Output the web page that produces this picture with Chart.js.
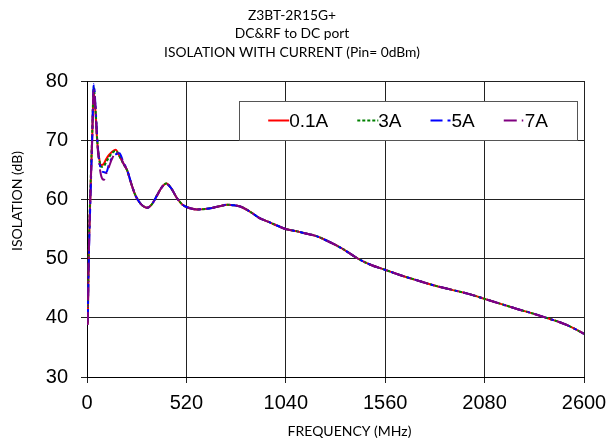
<!DOCTYPE html>
<html lang="en">
<head>
<meta charset="utf-8">
<title>Z3BT-2R15G+ isolation with current</title>
<script src="https://cdn.jsdelivr.net/npm/chart.js@4/dist/chart.umd.min.js"></script>
<style>
    html, body { margin: 0; padding: 0; background: #fff; }
    #wrap { width: 609px; height: 442px; }
</style>
</head>
<body>
<div id="wrap"><canvas id="isoChart" width="609" height="442"></canvas></div>

<script>
    /* Chart text */
    const titleLines = ['Z3BT-2R15G+', 'DC&RF to DC port', 'ISOLATION WITH CURRENT (Pin= 0dBm)'];
    const xTitle = 'FREQUENCY (MHz)';
    const yTitle = 'ISOLATION (dB)';
    const seriesLabels = ['0.1A', '3A', '5A', '7A'];

    /* Tick values */
    const xTicks = [0, 520, 1040, 1560, 2080, 2600];
    const yTicks = [30, 40, 50, 60, 70, 80];

    /* Data: frequency (MHz) and isolation (dB) per current */
    const freqMHz = [4, 9, 18, 27, 35, 45, 53, 62, 74, 88,
        100, 115, 130, 150, 170, 190, 210, 230, 253, 280,
        315, 340, 367, 390, 415, 440, 471, 500, 540, 576,
        620, 660, 700, 733, 770, 802, 854, 900, 950, 1000,
        1040, 1100, 1150, 1200, 1250, 1300, 1350, 1412, 1480, 1560,
        1640, 1720, 1812, 1900, 2000, 2080, 2160, 2250, 2335, 2422,
        2470, 2509, 2560, 2600];
    const iso01A = [39.0, 50.0, 61.0, 70.0, 78.3, 74.5, 70.0, 67.3, 65.8, 66.0,
        66.8, 67.5, 68.0, 68.4, 67.3, 66.1, 64.9, 62.8, 60.7, 59.3,
        58.6, 59.2, 60.7, 62.0, 62.7, 61.9, 60.2, 59.1, 58.5, 58.3,
        58.4, 58.6, 58.9, 59.1, 59.0, 58.8, 57.9, 56.9, 56.2, 55.5,
        55.0, 54.6, 54.2, 53.8, 53.1, 52.3, 51.4, 50.1, 49.0, 48.1,
        47.2, 46.4, 45.5, 44.8, 44.0, 43.2, 42.4, 41.5, 40.7, 39.8,
        39.3, 38.8, 38.0, 37.3];
    const iso3A = [39.2, 51.0, 62.0, 71.0, 79.0, 75.0, 70.3, 67.2, 65.5, 65.6,
        66.3, 67.1, 67.8, 68.2, 67.3, 66.0, 64.9, 62.8, 60.7, 59.3,
        58.6, 59.2, 60.8, 62.0, 62.7, 61.9, 60.2, 59.1, 58.5, 58.3,
        58.4, 58.6, 58.9, 59.1, 59.0, 58.8, 57.9, 56.9, 56.2, 55.5,
        55.0, 54.6, 54.2, 53.8, 53.1, 52.3, 51.4, 50.1, 49.0, 48.1,
        47.2, 46.4, 45.5, 44.8, 44.0, 43.2, 42.4, 41.5, 40.7, 39.8,
        39.3, 38.8, 38.0, 37.3];
    const iso5A = [39.5, 49.0, 60.0, 70.0, 79.5, 75.5, 70.5, 67.0, 65.0, 64.6,
        64.5, 65.9, 67.0, 67.6, 67.8, 66.3, 65.0, 62.9, 60.7, 59.3,
        58.6, 59.2, 60.7, 62.0, 62.6, 61.9, 60.2, 59.1, 58.5, 58.3,
        58.4, 58.6, 58.9, 59.1, 59.0, 58.8, 57.9, 56.9, 56.2, 55.5,
        55.0, 54.6, 54.2, 53.8, 53.1, 52.3, 51.4, 50.1, 49.0, 48.1,
        47.2, 46.4, 45.5, 44.8, 44.0, 43.2, 42.4, 41.5, 40.7, 39.8,
        39.3, 38.8, 38.0, 37.3];
    const iso7A = [38.8, 50.0, 61.0, 70.5, 78.8, 75.0, 70.0, 66.5, 64.0, 63.3,
        64.3, 65.5, 66.8, 67.8, 67.6, 66.1, 64.9, 62.8, 60.7, 59.3,
        58.6, 59.2, 60.7, 62.0, 62.7, 61.9, 60.2, 59.1, 58.5, 58.3,
        58.4, 58.6, 58.9, 59.1, 59.0, 58.8, 57.9, 56.9, 56.2, 55.5,
        55.0, 54.6, 54.2, 53.8, 53.1, 52.3, 51.4, 50.1, 49.0, 48.1,
        47.2, 46.4, 45.5, 44.8, 44.0, 43.2, 42.4, 41.5, 40.7, 39.8,
        39.3, 38.8, 38.0, 37.3];

    const tickFont = { family: '"Liberation Sans", Arial, sans-serif', size: 20 };
    const labelFont = 'Lato, "Open Sans", sans-serif';

    function toPoints(values) {
        return freqMHz.map((f, i) => ({ x: f, y: values[i] }));
    }

    /* Boxed legend inside the plot, upper right */
    const boxLegend = {
        id: 'boxLegend',
        afterDatasetsDraw(chart) {
            const { ctx, chartArea } = chart;
            const sample = 21, gap = 29, padX = 29, h = 39;
            ctx.save();
            ctx.font = '19px "Liberation Sans", Arial, sans-serif';
            // keep the legend in label order, not drawing order
            const sets = chart.data.datasets.slice().sort((a, b) => a.legendIndex - b.legendIndex);
            const items = sets.map(ds => ({ ds: ds, w: sample + ctx.measureText(ds.label).width }));
            let total = padX * 2 + gap * (items.length - 1);
            items.forEach(it => total += it.w);
            const right = chartArea.right - 7;
            const top = chartArea.top + 20;
            const left = right - total;
            ctx.fillStyle = '#fff';
            ctx.fillRect(left, top, total, h);
            ctx.strokeStyle = '#555';
            ctx.lineWidth = 1;
            ctx.strokeRect(Math.round(left) + 0.5, Math.round(top) + 0.5, Math.round(total), h);
            let x = left + padX;
            const cy = top + h / 2;
            items.forEach(it => {
                ctx.strokeStyle = it.ds.borderColor;
                ctx.lineWidth = 2;
                ctx.setLineDash(it.ds.borderDash || []);
                ctx.beginPath();
                ctx.moveTo(x, cy);
                ctx.lineTo(x + sample, cy);
                ctx.stroke();
                ctx.setLineDash([]);
                ctx.fillStyle = '#000';
                ctx.textBaseline = 'middle';
                ctx.fillText(it.ds.label, x + sample, cy + 1);
                x += it.w + gap;
            });
            ctx.restore();
        }
    };

    /* Axis titles (sit a little off-centre in the original) */
    const axisTitles = {
        id: 'axisTitles',
        afterDraw(chart) {
            const { ctx, chartArea: a } = chart;
            ctx.save();
            ctx.font = '14px ' + labelFont;
            ctx.fillStyle = '#000';
            ctx.textAlign = 'center';
            ctx.textBaseline = 'middle';
            ctx.fillText(xTitle, (a.left + a.right) / 2 + 14, a.bottom + 54);
            ctx.translate(17, (a.top + a.bottom) / 2 - 28);
            ctx.rotate(-Math.PI / 2);
            ctx.fillText(yTitle, 0, 0);
            ctx.restore();
        }
    };

    const ctx = document.getElementById('isoChart').getContext('2d');
    const isoChart = new Chart(ctx, {
        type: 'line',
        data: {
            datasets: [
                { label: seriesLabels[0], data: toPoints(iso01A), borderColor: '#ff0000', borderDash: [], order: 3, legendIndex: 0 },
                { label: seriesLabels[1], data: toPoints(iso3A), borderColor: '#008000', borderDash: [3, 2], order: 2, legendIndex: 1 },
                { label: seriesLabels[2], data: toPoints(iso5A), borderColor: '#0000ff', borderDash: [12, 5, 3, 5], order: 1, legendIndex: 2 },
                { label: seriesLabels[3], data: toPoints(iso7A), borderColor: '#800080', borderDash: [13, 5, 1.5, 5], order: 0, legendIndex: 3 }
            ]
        },
        options: {
            responsive: false,
            devicePixelRatio: 1,
            animation: false,
            elements: {
                point: { radius: 0 },
                line: { borderWidth: 2, cubicInterpolationMode: 'monotone', fill: false }
            },
            layout: { padding: { left: 0, right: 25, top: 0, bottom: 0 } },
            plugins: {
                legend: { display: false },
                tooltip: { enabled: false },
                title: {
                    display: true,
                    text: titleLines,
                    color: '#000',
                    font: { family: labelFont, size: 13.8, weight: 'normal', lineHeight: 18.5 / 13.8 },
                    padding: { top: 6.25, bottom: 19.25 }
                }
            },
            scales: {
                x: {
                    type: 'linear',
                    min: 0,
                    max: 2600,
                    afterBuildTicks: s => { s.ticks = xTicks.map(v => ({ value: v })); },
                    afterFit: s => { s.height = 65; s.paddingLeft = 0; s.paddingRight = 0; },
                    ticks: { font: tickFont, color: '#000', padding: 8, maxRotation: 0, autoSkip: false, callback: v => String(v) },
                    grid: { color: '#222', lineWidth: 1, tickLength: 6 },
                    border: { color: '#000', width: 1 }
                },
                y: {
                    min: 30,
                    max: 80,
                    afterBuildTicks: s => { s.ticks = yTicks.map(v => ({ value: v })); },
                    afterFit: s => { s.width = 87; s.paddingTop = 0; s.paddingBottom = 0; },
                    ticks: { font: tickFont, color: '#000', padding: 13, callback: v => String(v) },
                    grid: { color: '#222', lineWidth: 1, tickLength: 6 },
                    border: { color: '#000', width: 1 }
                }
            }
        },
        plugins: [boxLegend, axisTitles]
    });
</script>
</body>
</html>
